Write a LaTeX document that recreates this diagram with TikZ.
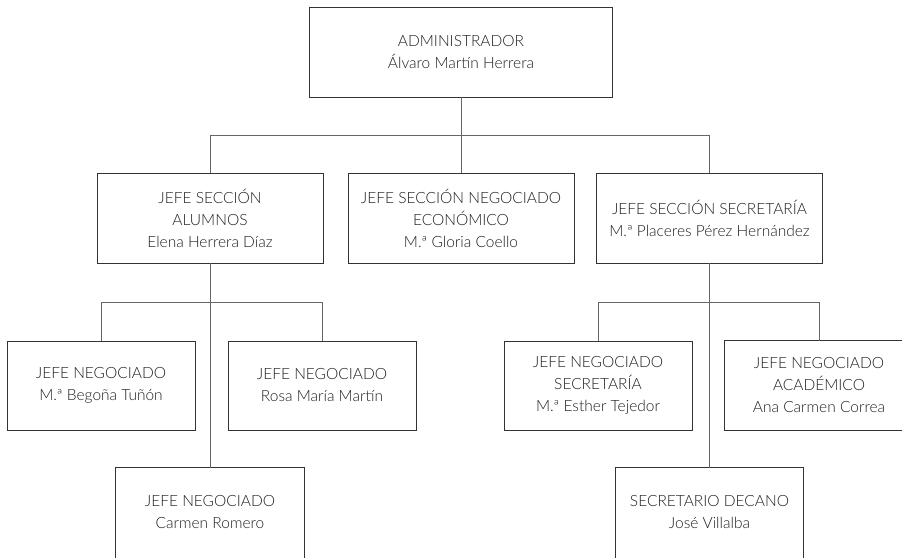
\documentclass[tikz,border=0pt]{standalone}
\usepackage{fontspec}
\setmainfont{Lato Light}
\begin{document}
\begin{tikzpicture}[x=1pt,y=-1pt,
  boxline/.style={draw=black!80, line width=0.9pt},
  txt/.style={align=center, inner sep=0pt,
    font=\fontsize{15.5}{22}\selectfont, text=black!88},
  box/.style={txt, boxline},
  big/.style={box, minimum width=303pt, minimum height=90pt},
  mid/.style={box, minimum width=226pt, minimum height=90pt},
  small/.style={box, minimum width=188pt, minimum height=89pt},
  opensmall/.style={txt, minimum width=188pt, minimum height=89pt},
  link/.style={draw=black!60, line width=1pt}]
\clip (0,0) rectangle (902,557);
\useasboundingbox (0,0) rectangle (902,557);
\fill[white] (0,0) rectangle (902,557);
\coordinate (bus1) at (0,135);
\coordinate (bus2) at (0,302);
\node[big] (admin) at (461,52) {ADMINISTRADOR\\Álvaro Martín Herrera};
\node[mid] (s1) at (210,218) {JEFE SECCIÓN\\ALUMNOS\\Elena Herrera Díaz};
\node[mid] (s2) at (461,218) {JEFE SECCIÓN NEGOCIADO\\ECONÓMICO\\M.ª Gloria Coello};
\node[mid] (s3) at (709.5,218) {JEFE SECCIÓN SECRETARÍA\\M.ª Placeres Pérez Hernández};
\node[small] (a) at (101,385.5) {JEFE NEGOCIADO\\M.ª Begoña Tuñón};
\node[small] (b) at (322,385.5) {JEFE NEGOCIADO\\Rosa María Martín};
\node[opensmall] (c) at (210,512.5) {JEFE NEGOCIADO\\Carmen Romero};
\node[small] (d) at (598,385.5) {JEFE NEGOCIADO\\SECRETARÍA\\M.ª Esther Tejedor};
\node[opensmall] (e) at (819,385.5) {JEFE NEGOCIADO\\ACADÉMICO\\Ana Carmen Correa};
\node[opensmall] (f) at (709.5,512.5) {SECRETARIO DECANO\\José Villalba};
\draw[boxline] (c.north west) rectangle ([yshift=-20pt]c.south east);
\draw[boxline] (f.north west) rectangle ([yshift=-20pt]f.south east);
\draw[boxline] (e.north west) rectangle ([xshift=20pt]e.south east);
\draw[link] (admin.south) -- (admin.south |- bus1);
\draw[link] (s1.north) -- (s1.north |- bus1) -| (s3.north);
\draw[link] (s2.north) -- (s2.north |- bus1);
\draw[link] (s1.south) -- (c.north);
\draw[link] (a.north) -- (a.north |- bus2) -| (b.north);
\draw[link] (s3.south) -- (f.north);
\draw[link] (d.north) -- (d.north |- bus2) -| (e.north);
\end{tikzpicture}
\end{document}
